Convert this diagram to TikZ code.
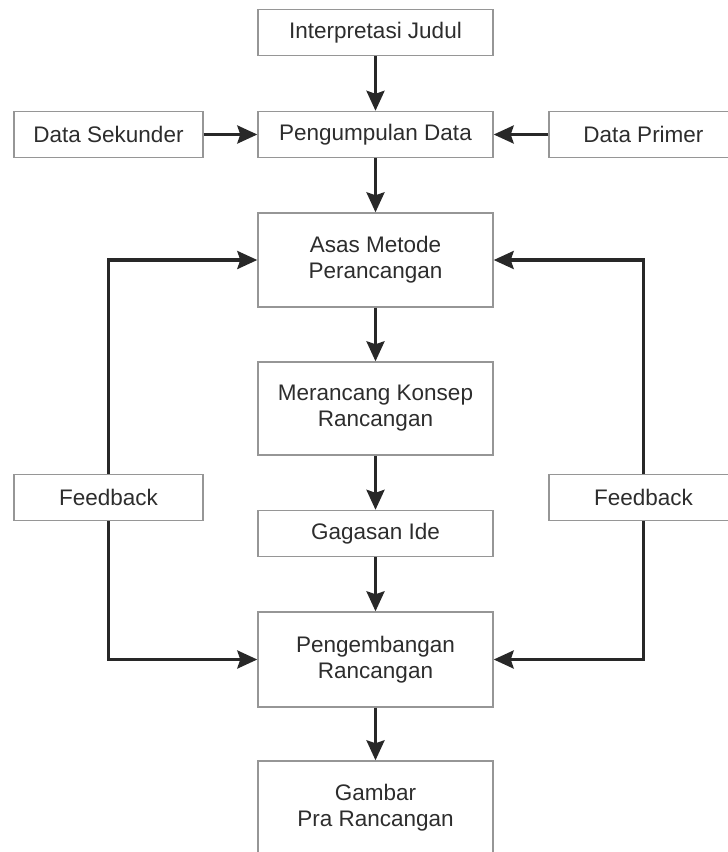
\documentclass[tikz,border=0pt]{standalone}
\usepackage{fontspec}
\setmainfont{Liberation Sans}
\usetikzlibrary{arrows.meta}
\definecolor{fcgray}{RGB}{150,150,150}
\definecolor{fcdark}{RGB}{40,40,40}
\definecolor{fctext}{RGB}{45,45,45}

\begin{document}
\begin{tikzpicture}[x=1pt,y=-1pt,line width=3.2pt,>={Stealth[length=20pt,width=18pt,inset=3pt]},
  proses/.style={draw=fcgray,line width=1.4pt,text=fctext,align=center,
    font=\fontsize{22.5}{26}\selectfont,minimum width=235pt,minimum height=46pt,inner sep=0pt},
  sumber/.style={proses,minimum width=189pt}]
  \useasboundingbox (0,0) rectangle (728,852);
  \clip (0,0) rectangle (728,852);
  \node[proses] (judul) at (375.5,32.5) {Interpretasi Judul};
  \node[proses] (kumpul) at (375.5,134.5) {Pengumpulan Data};
  \node[sumber] (sekunder) at (108.5,134.5) {Data Sekunder};
  \node[sumber] (primer) at (643.5,134.5) {Data Primer};
  \node[proses,minimum height=94pt] (asas) at (375.5,260) {Asas Metode\\Perancangan};
  \node[proses,minimum height=93pt] (konsep) at (375.5,408.5) {Merancang Konsep\\Rancangan};
  \node[proses] (ide) at (375.5,533.5) {Gagasan Ide};
  \node[proses,minimum height=95pt] (kembang) at (375.5,659.5) {Pengembangan\\Rancangan};
  \node[proses,minimum height=94pt] (gambar) at (375.5,808) {Gambar\\Pra Rancangan};
  \node[sumber] (fbkiri) at (108.5,497.5) {Feedback};
  \node[sumber] (fbkanan) at (643.5,497.5) {Feedback};
  \draw[fcdark,->] (judul) -- (kumpul);
  \draw[fcdark,->] (sekunder) -- (kumpul);
  \draw[fcdark,->] (primer) -- (kumpul);
  \draw[fcdark,->] (kumpul) -- (asas);
  \draw[fcdark,->] (asas) -- (konsep);
  \draw[fcdark,->] (konsep) -- (ide);
  \draw[fcdark,->] (ide) -- (kembang);
  \draw[fcdark,->] (kembang) -- (gambar);
  \draw[fcdark,->] (fbkiri.north) |- (asas.west);
  \draw[fcdark,->] (fbkiri.south) |- (kembang.west);
  \draw[fcdark,->] (fbkanan.north) |- (asas.east);
  \draw[fcdark,->] (fbkanan.south) |- (kembang.east);
\end{tikzpicture}
\end{document}
